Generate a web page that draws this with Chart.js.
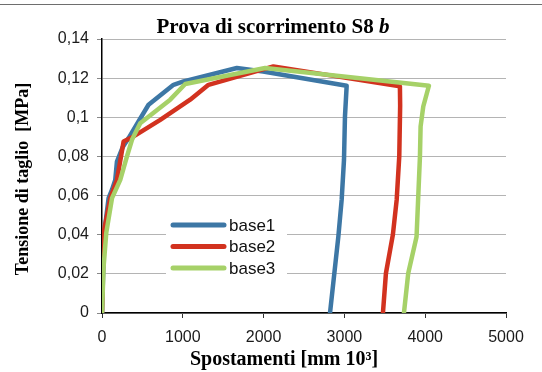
<!DOCTYPE html>
<html>
<head>
<meta charset="utf-8">
<script src="https://cdn.jsdelivr.net/npm/chart.js@4/dist/chart.umd.min.js"></script>
<style>
    html, body { margin: 0; padding: 0; background: #fff; }
    #wrap { width: 542px; height: 372px; position: relative; }
</style>
</head>
<body>
<div id="wrap"><canvas id="chart" width="542" height="372"></canvas></div>
<script>
// values
const seriesNames = ['base1', 'base2', 'base3'];

const base1X = [0, 28, 82, 124, 164, 185, 259, 329, 452, 576, 885, 1009, 1669, 1994, 3028, 3007, 2995, 2966, 2925, 2822];
const base1Y = [0, 0.041, 0.0587, 0.063, 0.068, 0.0774, 0.085, 0.0894, 0.0979, 0.1064, 0.1166, 0.1183, 0.1252, 0.1234, 0.1161, 0.1004, 0.0783, 0.0578, 0.039, 0];

const base2X = [0, 20, 103, 185, 267, 391, 721, 1091, 1318, 2121, 3687, 3690, 3679, 3647, 3600, 3514, 3477];
const base2Y = [0, 0.041, 0.0587, 0.068, 0.0876, 0.0902, 0.0987, 0.109, 0.1166, 0.126, 0.1158, 0.106, 0.08, 0.0578, 0.040, 0.0203, 0];

const base3X = [0, 20, 53, 124, 226, 309, 371, 473, 844, 1030, 2019, 4046, 3976, 3943, 3935, 3893, 3790, 3737];
const base3Y = [0, 0.0237, 0.041, 0.0587, 0.068, 0.08, 0.0885, 0.097, 0.109, 0.117, 0.1252, 0.1161, 0.1055, 0.0953, 0.08, 0.039, 0.0203, 0];

const xTickLabels = ['0', '1000', '2000', '3000', '4000', '5000'];
const yTickLabels = ['0', '0,02', '0,04', '0,06', '0,08', '0,1', '0,12', '0,14'];

const colors = ['#3d77a5', '#d2321f', '#a6d168'];

const toPoints = (xs, ys) => xs.map((x, i) => ({ x, y: ys[i] }));

const SERIF = '"Liberation Serif", "Times New Roman", serif';

// title, axis titles and legend drawn by hand (mixed italic title, legend inside plot)
const decorations = {
    id: 'decorations',
    afterDraw(chart) {
        const ctx = chart.ctx;
        ctx.save();

        // frame line at the top
        ctx.strokeStyle = '#6e6e6e';
        ctx.lineWidth = 1;
        ctx.beginPath();
        ctx.moveTo(0, 4.5);
        ctx.lineTo(542, 4.5);
        ctx.stroke();

        // title
        ctx.fillStyle = '#000';
        ctx.textBaseline = 'alphabetic';
        const t1 = 'Prova di scorrimento S8 ';
        const t2 = 'b';
        ctx.font = 'bold 21px ' + SERIF;
        const w1 = ctx.measureText(t1).width;
        ctx.font = 'italic bold 21px ' + SERIF;
        const w2 = ctx.measureText(t2).width;
        const tx = 273 - (w1 + w2) / 2;
        ctx.textAlign = 'left';
        ctx.font = 'bold 21px ' + SERIF;
        ctx.fillText(t1, tx, 33);
        ctx.font = 'italic bold 21px ' + SERIF;
        ctx.fillText(t2, tx + w1, 33);

        // x axis title
        ctx.font = 'bold 20px ' + SERIF;
        ctx.textAlign = 'center';
        ctx.fillText('Spostamenti [mm 10\u00b3]', 284, 365);

        // y axis title
        ctx.save();
        ctx.translate(28, 179);
        ctx.rotate(-Math.PI / 2);
        ctx.font = 'bold 18px ' + SERIF;
        ctx.fillText('Tensione di taglio  [MPa]', 0, 0);
        ctx.restore();

        // legend
        ctx.fillStyle = '#fff';
        ctx.fillRect(166, 214, 121, 64);
        const rows = [225, 246.5, 268];
        ctx.lineCap = 'round';
        ctx.lineWidth = 5;
        ctx.font = '17px "Liberation Sans", Arial, sans-serif';
        ctx.textAlign = 'left';
        ctx.textBaseline = 'middle';
        seriesNames.forEach((name, i) => {
            ctx.strokeStyle = colors[i];
            ctx.beginPath();
            ctx.moveTo(173, rows[i]);
            ctx.lineTo(224, rows[i]);
            ctx.stroke();
            ctx.fillStyle = '#111';
            ctx.fillText(name, 229, rows[i] + 1);
        });

        ctx.restore();
    }
};

const seriesData = [
    toPoints(base1X, base1Y),
    toPoints(base2X, base2Y),
    toPoints(base3X, base3Y)
];

new Chart(document.getElementById('chart'), {
    type: 'scatter',
    data: {
        datasets: seriesNames.map((name, i) => ({
            label: name,
            data: seriesData[i],
            showLine: true,
            borderColor: colors[i],
            backgroundColor: colors[i],
            borderWidth: 4.5,
            pointRadius: 0,
            tension: 0,
            borderJoinStyle: 'round',
            borderCapStyle: 'round',
            order: 3 - i
        }))
    },
    options: {
        responsive: false,
        animation: false,
        events: [],
        layout: { padding: { left: 0, top: 39, right: 36, bottom: 0 } },
        plugins: {
            legend: { display: false },
            title: { display: false },
            tooltip: { enabled: false }
        },
        scales: {
            x: {
                type: 'linear',
                min: 0,
                max: 5000,
                afterFit(scale) { scale.height = 59; },
                afterBuildTicks(scale) {
                    scale.ticks = xTickLabels.map(l => ({ value: Number(l) }));
                },
                ticks: {
                    callback: (v, i) => xTickLabels[i],
                    color: '#1a1a1a',
                    font: { family: '"Liberation Sans", Arial, sans-serif', size: 16 },
                    padding: 10,
                    maxRotation: 0
                },
                grid: { drawOnChartArea: false, tickLength: 5, color: '#333' },
                border: { color: '#000', width: 1.5 }
            },
            y: {
                min: 0,
                max: 0.14,
                afterFit(scale) { scale.width = 102; },
                afterBuildTicks(scale) {
                    scale.ticks = yTickLabels.map((l, i) => ({ value: i * 0.02 }));
                },
                ticks: {
                    callback: (v, i) => yTickLabels[i],
                    color: '#1a1a1a',
                    font: { family: '"Liberation Sans", Arial, sans-serif', size: 16 },
                    padding: 8
                },
                grid: { color: '#b4b4b4', lineWidth: 1, tickLength: 5, tickColor: '#888' },
                border: { color: '#000', width: 1.5 }
            }
        }
    },
    plugins: [decorations]
});
</script>
</body>
</html>
